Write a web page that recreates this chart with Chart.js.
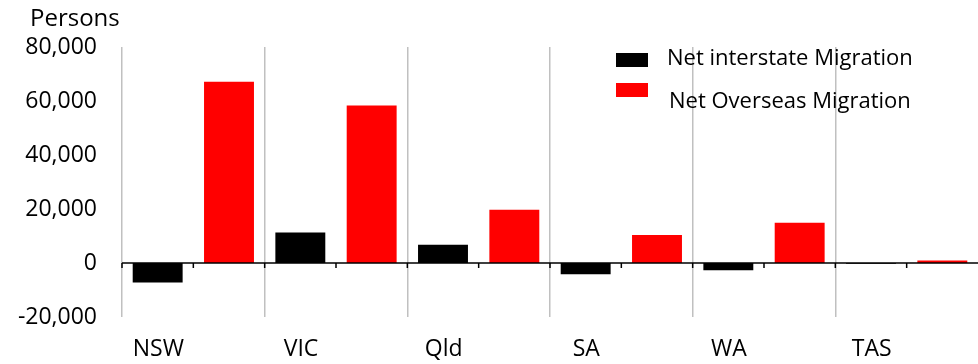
<!DOCTYPE html>
<html lang="en">
<head>
    <meta charset="UTF-8">
    <title>Net Migration by State</title>
    <script src="https://cdn.jsdelivr.net/npm/chart.js"></script>
    <style>
        body {
            margin: 0;
            background: #fff;
        }
        #wrap {
            width: 978px;
            height: 364px;
        }
    </style>
</head>
<body>
    <div id="wrap">
        <canvas id="migrationChart" width="978" height="364"></canvas>
    </div>

    <script>
        const states = ['NSW', 'VIC', 'Qld', 'SA', 'WA', 'TAS'];
        const netInterstate = [-7200, 11300, 6800, -4200, -2700, -300];
        const netOverseas = [67100, 58300, 19700, 10400, 14900, 900];
        const yTicks = [-20000, 0, 20000, 40000, 60000, 80000];

        const FONT = 'Open Sans';

        // zero line with small ticks at category edges and between the bars
        const zeroLine = {
            id: 'zeroLine',
            afterDatasetsDraw(chart) {
                const ctx = chart.ctx;
                const x = chart.scales.x;
                const y0 = chart.scales.y.getPixelForValue(0);
                const half = (x.getPixelForValue(1) - x.getPixelForValue(0)) / 2;
                ctx.save();
                ctx.strokeStyle = '#000';
                ctx.lineWidth = 1.5;
                ctx.beginPath();
                ctx.moveTo(chart.chartArea.left, y0);
                ctx.lineTo(chart.chartArea.right, y0);
                for (let i = 0; i < states.length; i++) {
                    const c = x.getPixelForValue(i);
                    ctx.moveTo(c - half, y0);
                    ctx.lineTo(c - half, y0 + 5);
                    ctx.moveTo(c, y0);
                    ctx.lineTo(c, y0 + 5);
                }
                ctx.stroke();
                ctx.restore();
            }
        };

        // "Persons" unit label and the legend in the top right corner
        const extras = {
            id: 'extras',
            afterDraw(chart) {
                const ctx = chart.ctx;
                ctx.save();
                ctx.fillStyle = '#000';
                ctx.textBaseline = 'middle';
                ctx.font = '24px "' + FONT + '"';
                ctx.fillText('Persons', 30, 19);

                ctx.font = '22px "' + FONT + '"';
                const items = [
                    { ds: chart.data.datasets[0], sy: 53, ty: 59, tx: 667 },
                    { ds: chart.data.datasets[1], sy: 83, ty: 102, tx: 669 }
                ];
                items.forEach(it => {
                    ctx.fillStyle = it.ds.backgroundColor;
                    ctx.fillRect(616, it.sy, 32, 14);
                    ctx.fillStyle = '#000';
                    ctx.fillText(it.ds.label, it.tx, it.ty);
                });
                ctx.restore();
            }
        };

        const ctx = document.getElementById('migrationChart').getContext('2d');
        new Chart(ctx, {
            type: 'bar',
            data: {
                labels: states,
                datasets: [{
                    label: 'Net interstate Migration',
                    data: netInterstate,
                    backgroundColor: '#000000',
                    barPercentage: 0.7,
                    categoryPercentage: 1.0
                }, {
                    label: 'Net Overseas Migration',
                    data: netOverseas,
                    backgroundColor: '#ff0000',
                    barPercentage: 0.7,
                    categoryPercentage: 1.0
                }]
            },
            options: {
                responsive: false,
                animation: false,
                layout: {
                    padding: { left: 17, top: 47, right: 0, bottom: 0 }
                },
                plugins: {
                    legend: { display: false },
                    tooltip: { enabled: false }
                },
                scales: {
                    x: {
                        offset: true,
                        border: { display: false },
                        grid: {
                            offset: true,
                            // no line on the right edge of the plot
                            color: c => (c.tick ? '#c0c0c0' : 'rgba(0,0,0,0)'),
                            lineWidth: 1.5,
                            drawTicks: false
                        },
                        ticks: {
                            color: '#000',
                            font: { family: FONT, size: 23 },
                            padding: 19,
                            labelOffset: -35,
                            maxRotation: 0
                        },
                        afterFit(scale) {
                            scale.height = 47;
                        }
                    },
                    y: {
                        min: -20000,
                        max: 80000,
                        border: { display: false },
                        grid: { display: false, drawTicks: false },
                        afterBuildTicks(scale) {
                            scale.ticks = yTicks.map(v => ({ value: v }));
                        },
                        ticks: {
                            color: '#000',
                            padding: 25,
                            font: { family: FONT, size: 23 },
                            callback: v => v.toLocaleString('en-US')
                        },
                        afterFit(scale) {
                            scale.width = 105;
                        }
                    }
                }
            },
            plugins: [zeroLine, extras]
        });
    </script>
</body>
</html>
